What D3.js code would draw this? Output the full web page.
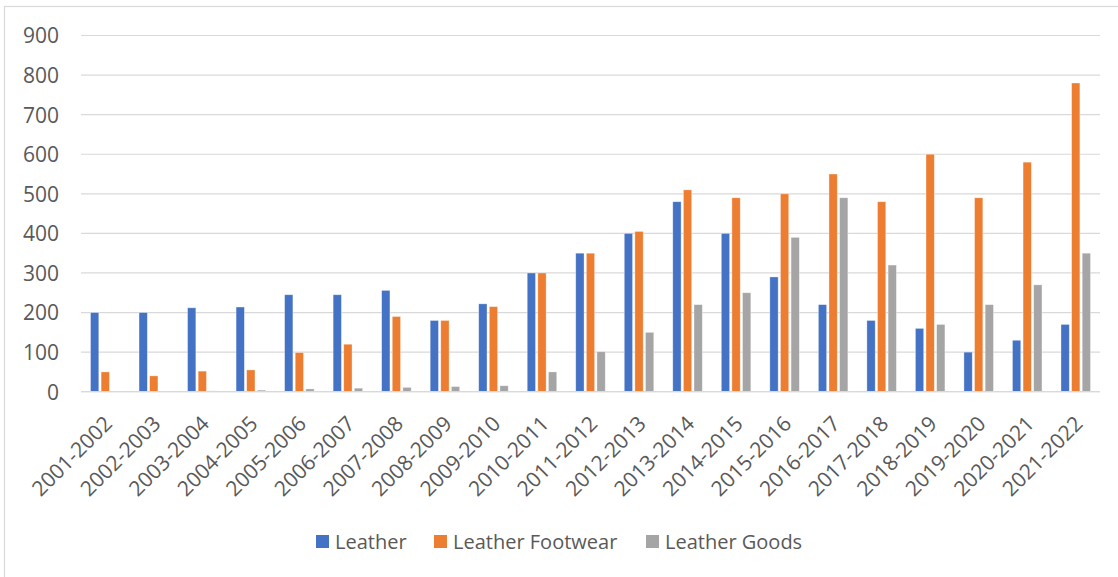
<!DOCTYPE html>
<html>
<head>
<meta charset="utf-8">
<script src="https://cdn.jsdelivr.net/npm/d3@7/dist/d3.min.js"></script>
<style>
  html, body { margin: 0; padding: 0; background: #fff; }
  svg { display: block; font-family: "Open Sans", "Liberation Sans", sans-serif; }
</style>
</head>
<body>
<svg id="chart" width="1118" height="577"></svg>
<script>
const categories = ["2001-2002","2002-2003","2003-2004","2004-2005","2005-2006","2006-2007","2007-2008","2008-2009","2009-2010","2010-2011","2011-2012","2012-2013","2013-2014","2014-2015","2015-2016","2016-2017","2017-2018","2018-2019","2019-2020","2020-2021","2021-2022"];
const seriesNames = ["Leather", "Leather Footwear", "Leather Goods"];
const leather = [200,200,212,214,245,245,256,180,222,300,350,400,480,400,290,220,180,160,100,130,170];
const leatherFootwear = [50,40,52,55,99,120,190,180,215,300,350,405,510,490,500,550,480,600,490,580,780];
const leatherGoods = [0,1,2,4,7,9,11,13,15,50,101,150,220,250,390,490,320,170,220,270,350];
const yTicks = [0,100,200,300,400,500,600,700,800,900];
const colors = ["#4472C4", "#ED7D31", "#A5A5A5"];

const seriesValues = [leather, leatherFootwear, leatherGoods];

const svg = d3.select("#chart");

// chart border
svg.append("rect")
  .attr("x", 4.5).attr("y", 6.5)
  .attr("width", 1130).attr("height", 600)
  .attr("fill", "none").attr("stroke", "#D9D9D9").attr("stroke-width", 1.2);

const plotLeft = 81, plotRight = 1100, plotTop = 35.5, plotBottom = 391.7;

const x0 = d3.scaleBand().domain(categories).range([plotLeft, plotRight]).paddingInner(0).paddingOuter(0);
const x1 = d3.scaleBand().domain(seriesNames).range([0, x0.bandwidth()]).paddingInner(0.217).paddingOuter(0.896);
const y = d3.scaleLinear().domain([0, 900]).range([plotBottom, plotTop]);

// gridlines
const grid = svg.append("g");
grid.selectAll("line").data(yTicks).join("line")
  .attr("x1", plotLeft).attr("x2", plotRight)
  .attr("y1", d => y(d)).attr("y2", d => y(d))
  .attr("stroke", "#D9D9D9").attr("stroke-width", 1.2);

// y axis labels
const yAxis = d3.axisLeft(y).tickValues(yTicks).tickSize(0).tickPadding(0);
const yg = svg.append("g").attr("transform", `translate(${plotLeft - 22},0)`).call(yAxis);
yg.select(".domain").remove();
yg.selectAll("text")
  .attr("font-family", "'Open Sans', sans-serif")
  .attr("font-size", 21)
  .attr("fill", "#595959")
  .attr("dy", "0.35em");

// bars
const data = [];
categories.forEach((c, i) => {
  seriesNames.forEach((s, j) => data.push({cat: c, series: s, value: seriesValues[j][i], color: colors[j]}));
});
svg.append("g").selectAll("rect").data(data).join("rect")
  .attr("x", d => x0(d.cat) + x1(d.series))
  .attr("y", d => y(d.value))
  .attr("width", x1.bandwidth())
  .attr("height", d => plotBottom - y(d.value))
  .attr("fill", d => d.color)
  .attr("stroke", "#fff").attr("stroke-opacity", 0.5).attr("stroke-width", 0.7);

// x axis line (over bars)
svg.append("line")
  .attr("x1", plotLeft).attr("x2", plotRight).attr("y1", plotBottom).attr("y2", plotBottom)
  .attr("stroke", "#D9D9D9").attr("stroke-width", 1.2);

// x axis labels
const xAxis = d3.axisBottom(x0).tickSize(0).tickPadding(0);
const xg = svg.append("g").attr("transform", `translate(0,${plotBottom})`).call(xAxis);
xg.select(".domain").remove();
xg.selectAll("text")
  .attr("font-family", "'Open Sans', sans-serif")
  .attr("font-size", 21)
  .attr("fill", "#595959")
  .attr("text-anchor", "end")
  .attr("dy", "0.35em")
  .attr("transform", "translate(3,28) rotate(-45)");

// legend
const legendItems = [
  {name: seriesNames[0], color: colors[0], x: 316},
  {name: seriesNames[1], color: colors[1], x: 434},
  {name: seriesNames[2], color: colors[2], x: 646}
];
const lg = svg.append("g");
const li = lg.selectAll("g").data(legendItems).join("g")
  .attr("transform", d => `translate(${d.x},541.5)`);
li.append("rect").attr("x", 0).attr("y", -6.5).attr("width", 13).attr("height", 13).attr("fill", d => d.color);
li.append("text").attr("x", 19).attr("y", 0).attr("dy", "0.35em")
  .attr("font-family", "'Open Sans', sans-serif")
  .attr("font-size", 20).attr("fill", "#595959")
  .text(d => d.name);
</script>
</body>
</html>
